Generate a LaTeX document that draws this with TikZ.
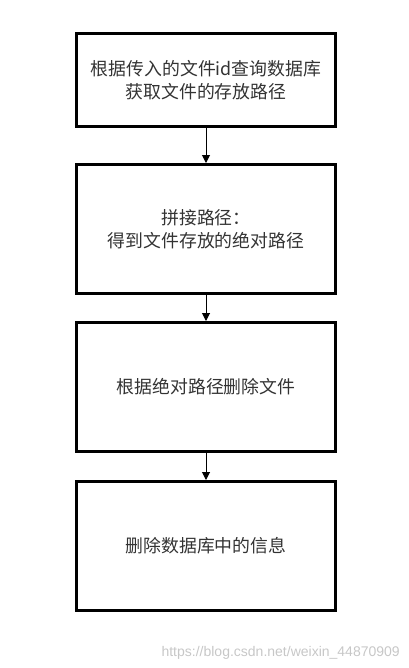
\documentclass[tikz,border=0pt]{standalone}
\usepackage{fontspec}
\newfontfamily\cjk{Noto Sans CJK SC}
\newfontfamily\wmfont{Liberation Sans}
\usetikzlibrary{positioning,arrows.meta}
\tikzset{
  stepbox/.style={draw, line width=2.25pt, minimum width=194.25pt, minimum height=96.75pt,
    align=center, font=\cjk\fontsize{13.4pt}{17.5pt}\selectfont, text=black!80, inner sep=0pt},
  flow/.style={-{Triangle[length=6pt,width=6pt]}, line width=0.75pt}
}
\begin{document}
\begin{tikzpicture}[x=0.75pt,y=0.75pt]
  \useasboundingbox (0,0) rectangle (409,-668);

  \node[stepbox, minimum height=69.75pt] (query) at (206,-80)
    {根据传入的文件id查询数据库\\获取文件的存放路径};
  \node[stepbox, below=26.25pt of query] (join) {拼接路径：\\得到文件存放的绝对路径};
  \node[stepbox, below=19.5pt of join] (remove) {根据绝对路径删除文件};
  \node[stepbox, below=20.25pt of remove] (clean) {删除数据库中的信息};

  \draw[flow] (query) -- (join);
  \draw[flow] (join) -- (remove);
  \draw[flow] (remove) -- (clean);

  \node[anchor=base east, text=black!22, font=\wmfont\fontsize{10.5pt}{12pt}\selectfont, inner sep=0pt]
    (mark) at (400,-656) {https://blog.csdn.net/weixin\_44870909};

\end{tikzpicture}
\end{document}
